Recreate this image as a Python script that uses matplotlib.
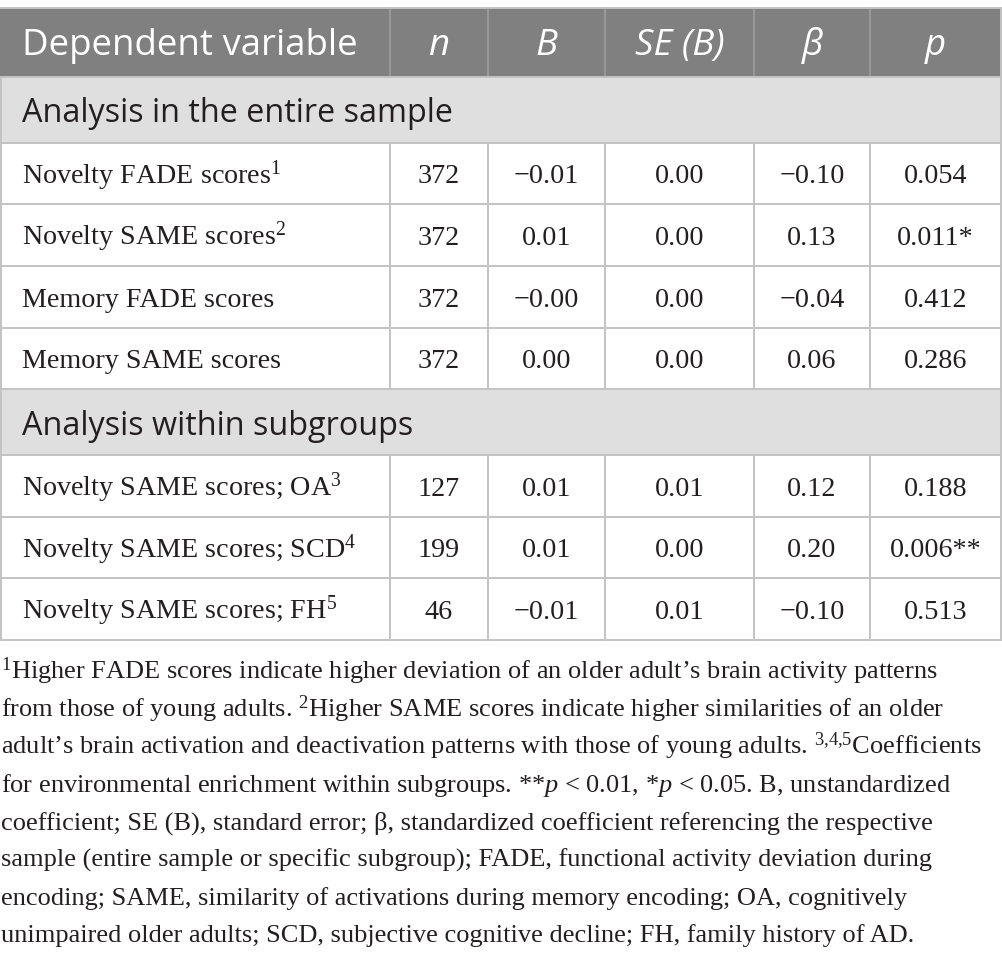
import matplotlib
matplotlib.use('Agg')
import matplotlib.pyplot as plt
from matplotlib.patches import Rectangle

plt.rcParams['mathtext.fontset'] = 'custom'
plt.rcParams['mathtext.rm'] = 'Liberation Serif'
plt.rcParams['mathtext.it'] = 'Liberation Serif:italic'
plt.rcParams['mathtext.bf'] = 'Liberation Serif:bold'

# table data
headers = ['Dependent variable', 'n', 'B', 'SE (B)', 'β', 'p']
sections = ['Analysis in the entire sample', 'Analysis within subgroups']
section_rows = [4, 3]
row_labels = ['Novelty FADE scores', 'Novelty SAME scores', 'Memory FADE scores',
              'Memory SAME scores', 'Novelty SAME scores; OA', 'Novelty SAME scores; SCD',
              'Novelty SAME scores; FH']
row_notes = ['1', '2', '', '', '3', '4', '5']
n_vals = [372, 372, 372, 372, 127, 199, 46]
b_vals = [-0.01, 0.01, -0.00, 0.00, 0.01, 0.01, -0.01]
se_vals = [0.00, 0.00, 0.00, 0.00, 0.01, 0.00, 0.01]
beta_vals = [-0.10, 0.13, -0.04, 0.06, 0.12, 0.20, -0.10]
p_vals = [0.054, 0.011, 0.412, 0.286, 0.188, 0.006, 0.513]
p_stars = ['', '*', '', '', '', '**', '']

footnote = [
    r'$^{1}$Higher FADE scores indicate higher deviation of an older adult’s brain activity patterns',
    r'from those of young adults. $^{2}$Higher SAME scores indicate higher similarities of an older',
    r'adult’s brain activation and deactivation patterns with those of young adults. $^{3{,}4{,}5}$Coefficients',
    r'for environmental enrichment within subgroups. **$p$ < 0.01, *$p$ < 0.05. B, unstandardized',
    r'coefficient; SE (B), standard error; β, standardized coefficient referencing the respective',
    r'sample (entire sample or specific subgroup); FADE, functional activity deviation during',
    r'encoding; SAME, similarity of activations during memory encoding; OA, cognitively',
    r'unimpaired older adults; SCD, subjective cognitive decline; FH, family history of AD.',
]

def fmt(v, d=2):
    return f'{v:.{d}f}'.replace('-', '\u2212')

# layout (pixels)
W, H = 1002, 959
col_edges = [0, 390, 488, 605, 754, 870, 1001]
top = 8
head_h = 69
sec_h = 65.5
row_h = 61.7
grid_c = '#c3c3c3'
head_bg = '#7f807f'
sec_bg = '#e0dfe0'
text_c = '#231f20'
serif = ['Liberation Serif', 'DejaVu Serif']
sans = ['Open Sans', 'DejaVu Sans']

fig = plt.figure(figsize=(W / 100, H / 100), dpi=100)
ax = fig.add_axes([0, 0, 1, 1])
ax.set_xlim(0, W)
ax.set_ylim(H, 0)
ax.axis('off')
renderer = fig.canvas.get_renderer()

def fit_size(txt, family, target, style='normal'):
    t = ax.text(0, 0, txt, fontsize=10, family=family, style=style)
    w = t.get_window_extent(renderer).width
    t.remove()
    return 10 * target / w

fs_head = fit_size(headers[0], sans, 336)
fs_sec = fit_size(sections[0], sans, 433)
fs_data = fit_size(row_labels[0], serif, 246)
fs_note = fit_size(footnote[0], serif, 940)

# header
ax.add_patch(Rectangle((0, top), W, head_h, color=head_bg, lw=0))
for i, h in enumerate(headers):
    if i == 0:
        ax.text(22, top + head_h / 2 + 12.5, h, fontsize=fs_head, family=sans,
                color='white', va='baseline', ha='left')
    else:
        xc = (col_edges[i] + col_edges[i + 1]) / 2
        ax.text(xc, top + head_h / 2 + 12.5, h, fontsize=fs_head, family=sans,
                style='italic', color='white', va='baseline', ha='center')
        ax.plot([col_edges[i], col_edges[i]], [top, top + head_h], color='#9b9b9b', lw=1.3)

y = top + head_h
ri = 0
hlines = [top, y]
for s, cnt in zip(sections, section_rows):
    ax.add_patch(Rectangle((0, y), W, sec_h, color=sec_bg, lw=0))
    ax.text(22, y + sec_h / 2 + 12.5, s, fontsize=fs_sec, family=sans,
            color=text_c, va='baseline', ha='left')
    y += sec_h
    hlines.append(y)
    for k in range(cnt):
        base = y + row_h / 2 + 10
        lab = row_labels[ri] + (f'$^{{{row_notes[ri]}}}$' if row_notes[ri] else '')
        ax.text(22, base, lab, fontsize=fs_data, family=serif, color=text_c,
                va='baseline', ha='left')
        cells = [str(n_vals[ri]), fmt(b_vals[ri]), fmt(se_vals[ri]),
                 fmt(beta_vals[ri]), fmt(p_vals[ri], 3) + p_stars[ri]]
        for j, c in enumerate(cells):
            xc = (col_edges[j + 1] + col_edges[j + 2]) / 2
            ax.text(xc, base, c, fontsize=fs_data, family=serif, color=text_c,
                    va='baseline', ha='center')
        for xe in col_edges[1:-1]:
            ax.plot([xe, xe], [y, y + row_h], color=grid_c, lw=1.4)
        y += row_h
        hlines.append(y)
        ri += 1

for yl in hlines:
    ax.plot([0, W], [yl, yl], color=grid_c, lw=1.4)
ax.plot([0.7, 0.7], [top + head_h, y], color=grid_c, lw=1.4)
ax.plot([col_edges[-1], col_edges[-1]], [top, y], color=grid_c, lw=1.4)

# footnote
for i, line in enumerate(footnote):
    ax.text(1, 679 + i * 37.6, line, fontsize=fs_note, family=serif, color=text_c,
            va='baseline', ha='left')

plt.savefig('out.png', dpi=100)
